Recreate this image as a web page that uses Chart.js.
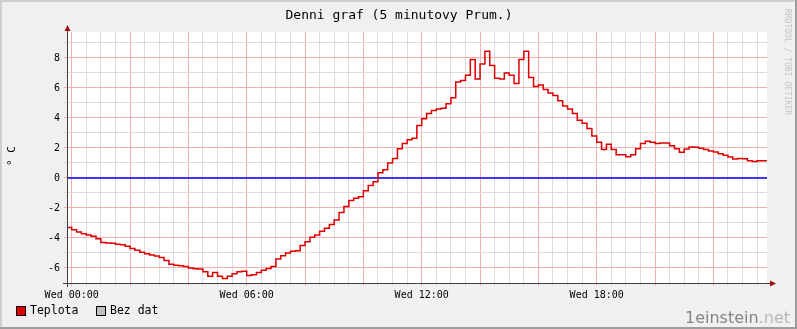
<!DOCTYPE html>
<html>
<head>
<meta charset="utf-8">
<script src="https://cdn.jsdelivr.net/npm/chart.js@4"></script>
<style>
  html, body { margin: 0; padding: 0; background: #f0f0f0; }
  #wrap { width: 797px; height: 329px; }
</style>
</head>
<body>
<div id="wrap"><canvas id="tempChart" width="797" height="329"></canvas></div>
<script>
// 10 minute samples, first one at 23:50 of the previous day
const temps = [
  -3.2, -3.3, -3.45, -3.6, -3.72, -3.8, -3.88, -4.05, -4.3, -4.33, -4.35, -4.42,
  -4.45, -4.55, -4.7, -4.82, -4.95, -5.05, -5.13, -5.2, -5.3, -5.5, -5.75, -5.82,
  -5.85, -5.9, -6.0, -6.05, -6.07, -6.25, -6.55, -6.3, -6.55, -6.7, -6.55, -6.38,
  -6.25, -6.22, -6.5, -6.45, -6.3, -6.15, -6.03, -5.9, -5.4, -5.18, -5.0, -4.88,
  -4.85, -4.5, -4.25, -3.95, -3.8, -3.55, -3.35, -3.1, -2.8, -2.3, -1.9, -1.5,
  -1.35, -1.25, -0.85, -0.5, -0.25, 0.35, 0.55, 1.0, 1.3, 1.95, 2.3, 2.55,
  2.65, 3.5, 3.95, 4.3, 4.5, 4.6, 4.65, 4.95, 5.35, 6.4, 6.5, 6.85,
  7.9, 6.6, 7.6, 8.45, 7.5, 6.65, 6.6, 7.0, 6.85, 6.3, 7.9, 8.45,
  6.7, 6.1, 6.2, 5.9, 5.67, 5.5, 5.15, 4.8, 4.6, 4.3, 3.85, 3.65,
  3.3, 2.8, 2.38, 1.9, 2.25, 1.9, 1.55, 1.55, 1.42, 1.55, 1.95, 2.3,
  2.45, 2.38, 2.3, 2.33, 2.33, 2.15, 1.95, 1.72, 1.93, 2.07, 2.05, 1.98,
  1.9, 1.8, 1.73, 1.62, 1.52, 1.4, 1.27, 1.3, 1.28, 1.15, 1.1, 1.15, 1.15
];
const sampleMinutes = temps.map((_, i) => -10 + i * 10);

const hourLabels = ['Wed 00:00', 'Wed 06:00', 'Wed 12:00', 'Wed 18:00'];
const labelMinutes = [0, 360, 720, 1080];
const yLabels = [-6, -4, -2, 0, 2, 4, 6, 8];

const xMin = -9.7, xMax = 1430.3;
const gridMinutes = [];
for (let m = 0; m <= 1410; m += 30) gridMinutes.push(m);
const gridValues = [];
for (let v = -7; v <= 9; v++) gridValues.push(v);

const red = '#f4b0b0';
const gray = '#dcdcdc';
const mono = 'DejaVu Sans Mono';

const rrdFrame = {
  id: 'rrdFrame',
  beforeDraw(chart) {
    const c = chart.ctx, a = chart.chartArea;
    c.save();
    c.fillStyle = '#f0f0f0';
    c.fillRect(0, 0, 797, 329);
    c.fillStyle = '#cfcfcf';
    c.fillRect(0, 0, 797, 2);
    c.fillRect(0, 0, 2, 329);
    c.fillStyle = '#9e9e9e';
    c.fillRect(0, 327, 797, 2);
    c.fillRect(795, 0, 2, 329);
    c.fillStyle = '#ffffff';
    c.fillRect(a.left, a.top, a.right - a.left, a.bottom - a.top);
    c.restore();
  },
  afterDraw(chart) {
    const c = chart.ctx, a = chart.chartArea;
    c.save();
    // axes
    c.strokeStyle = '#404040';
    c.lineWidth = 1;
    c.beginPath();
    c.moveTo(a.left - 4, a.bottom + 0.5);
    c.lineTo(a.right + 5, a.bottom + 0.5);
    c.moveTo(a.left + 0.5, a.bottom + 4);
    c.lineTo(a.left + 0.5, a.top - 4);
    c.stroke();
    c.fillStyle = '#a01010';
    c.beginPath();
    c.moveTo(a.left + 0.5, a.top - 7);
    c.lineTo(a.left - 2.5, a.top - 1);
    c.lineTo(a.left + 3.5, a.top - 1);
    c.closePath();
    c.fill();
    c.beginPath();
    c.moveTo(a.right + 9, a.bottom + 0.5);
    c.lineTo(a.right + 3, a.bottom - 2.5);
    c.lineTo(a.right + 3, a.bottom + 3.5);
    c.closePath();
    c.fill();

    // title
    c.fillStyle = '#000';
    c.textBaseline = 'middle';
    c.textAlign = 'center';
    c.font = '13px "' + mono + '"';
    c.fillText('Denni graf (5 minutovy Prum.)', 399, 16);

    // unit
    c.save();
    c.translate(12, 156);
    c.rotate(-Math.PI / 2);
    c.font = '11px "' + mono + '"';
    c.fillText('° C', 0, 0);
    c.restore();

    // side credit
    c.save();
    c.translate(787, 62);
    c.rotate(Math.PI / 2);
    c.fillStyle = '#c4c4c4';
    c.font = '8px "' + mono + '"';
    c.fillText('RRDTOOL / TOBI OETIKER', 0, 0);
    c.restore();

    // legend
    c.textAlign = 'left';
    c.font = '11.5px "' + mono + '"';
    c.lineWidth = 1;
    c.strokeStyle = '#000';
    c.fillStyle = '#e00000';
    c.fillRect(16.5, 306.5, 9, 9);
    c.strokeRect(16.5, 306.5, 9, 9);
    c.fillStyle = '#c0c0c0';
    c.fillRect(96.5, 306.5, 9, 9);
    c.strokeRect(96.5, 306.5, 9, 9);
    c.fillStyle = '#000';
    c.fillText('Teplota', 30, 311);
    c.fillText('Bez dat', 110, 311);

    // watermark
    c.textBaseline = 'alphabetic';
    c.font = '16px "DejaVu Sans"';
    const w1 = c.measureText('1einstein').width;
    const w2 = c.measureText('.net').width;
    const x0 = 790 - w1 - w2;
    c.fillStyle = '#858585';
    c.fillText('1einstein', x0, 323);
    c.fillStyle = '#b8b8b8';
    c.fillText('.net', x0 + w1, 323);
    c.restore();
  }
};

const ctx = document.getElementById('tempChart').getContext('2d');
const tempChart = new Chart(ctx, {
  type: 'line',
  data: {
    datasets: [
      {
        label: 'Teplota',
        data: sampleMinutes.map((m, i) => ({ x: m, y: temps[i] })),
        borderColor: '#dd0000',
        borderWidth: 1.5,
        stepped: 'after',
        pointRadius: 0,
        fill: false,
      },
      {
        label: 'zero',
        data: [{ x: xMin, y: 0 }, { x: xMax, y: 0 }],
        borderColor: '#0000ff',
        borderWidth: 1.5,
        pointRadius: 0,
      },
    ],
  },
  options: {
    responsive: false,
    animation: false,
    devicePixelRatio: 1,
    layout: { padding: { left: 0, top: 32, right: 30, bottom: 0 } },
    plugins: {
      legend: { display: false },
      tooltip: { enabled: false },
    },
    scales: {
      x: {
        type: 'linear',
        min: xMin,
        max: xMax,
        afterBuildTicks: (s) => { s.ticks = gridMinutes.map((v) => ({ value: v })); },
        afterFit: (s) => { s.height = 46; },
        border: { display: false },
        grid: {
          color: gridMinutes.map((m) => (m % 120 === 0 ? red : gray)),
          tickLength: 3,
        },
        ticks: {
          autoSkip: false,
          maxRotation: 0,
          padding: 3,
          color: '#000',
          font: { family: mono, size: 10 },
          callback: (v) => {
            const i = labelMinutes.indexOf(v);
            return i >= 0 ? hourLabels[i] : '';
          },
        },
      },
      y: {
        min: -7,
        max: 9.73,
        afterBuildTicks: (s) => { s.ticks = gridValues.map((v) => ({ value: v })); },
        afterFit: (s) => { s.width = 67; },
        border: { display: false },
        grid: {
          color: gridValues.map((v) => (Math.abs(v) % 2 === 0 ? red : gray)),
          tickLength: 3,
        },
        ticks: {
          autoSkip: false,
          padding: 4,
          color: '#000',
          font: { family: mono, size: 10 },
          callback: (v) => (yLabels.includes(v) ? String(v) : ''),
        },
      },
    },
  },
  plugins: [rrdFrame],
});
</script>
</body>
</html>
